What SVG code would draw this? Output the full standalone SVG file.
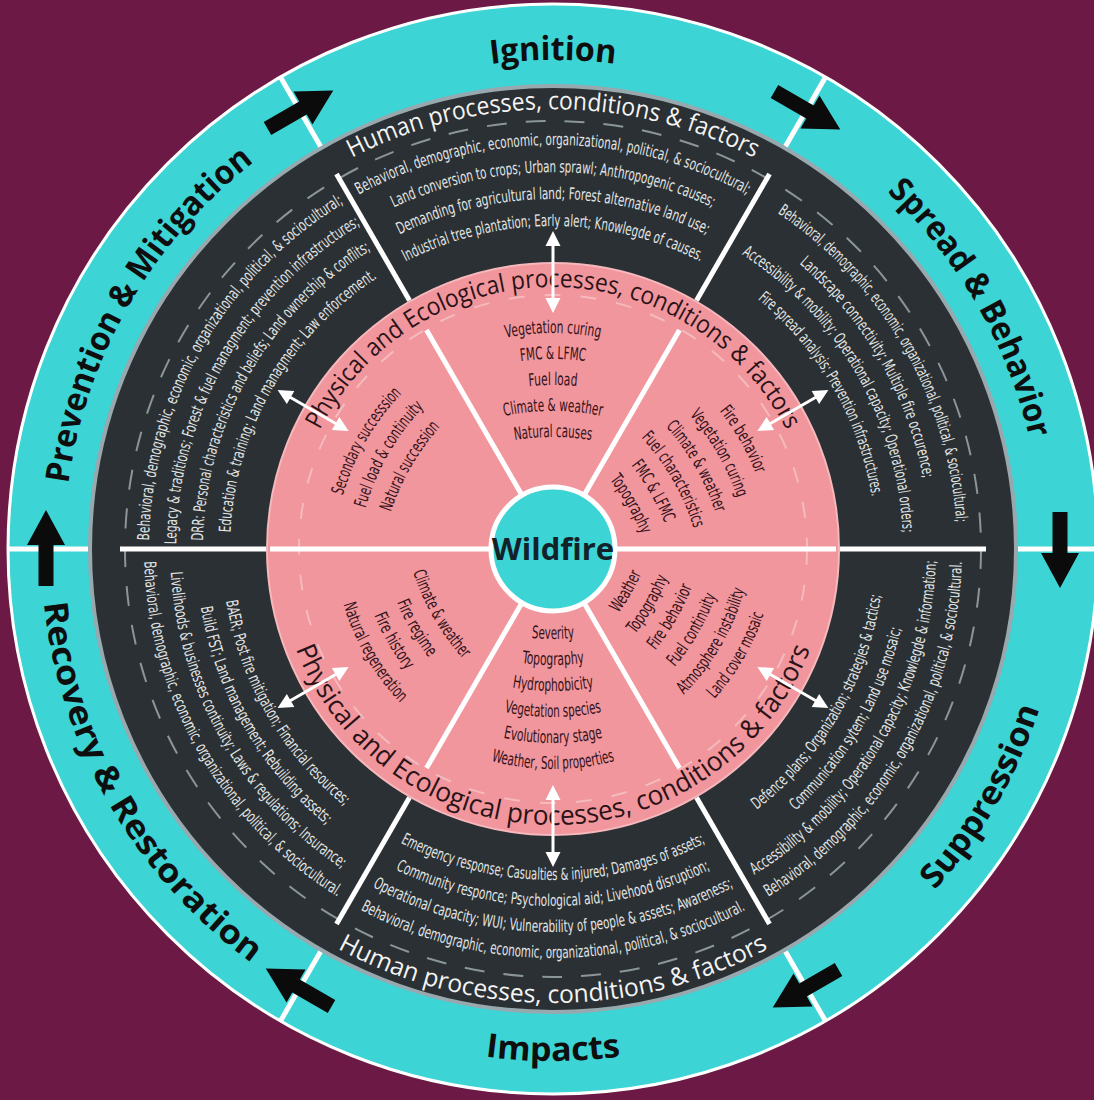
<svg xmlns="http://www.w3.org/2000/svg" width="1094" height="1100" viewBox="0 0 1094 1100">
<style>
.dk{font-family:"Liberation Sans Narrow","DejaVu Sans Condensed","Liberation Sans",sans-serif;font-size:16.5px;fill:#e2e5e5}
.pk{font-family:"Liberation Sans Narrow","DejaVu Sans Condensed","Liberation Sans",sans-serif;font-size:17.5px;fill:#35111a}
.hd{font-family:"Open Sans","Liberation Sans",sans-serif;font-size:25px;fill:#f4f4f4}
.ph{font-family:"Open Sans","Liberation Sans",sans-serif;font-size:25px;fill:#2a1318}
.st{font-family:"Open Sans","Liberation Sans",sans-serif;font-size:33px;font-weight:700;fill:#0e0e0e}
.core{font-family:"Open Sans","Liberation Sans",sans-serif;font-size:31px;font-weight:700;fill:#13222a}
.div{stroke:#fff;stroke-width:5}
.arr{fill:#0b0b0b}
.dbl{stroke:#fff;stroke-width:3}
</style>
<defs>
  <!-- clockwise half circles (text reads over the top) -->
  <path id="cw404" d="M149,549 A404,404 0 0 1 957,549"/>
  <path id="cw377" d="M176,549 A377,377 0 0 1 930,549"/>
  <path id="cw350" d="M203,549 A350,350 0 0 1 903,549"/>
  <path id="cw323" d="M230,549 A323,323 0 0 1 876,549"/>
  <path id="cw440" d="M113,549 A440,440 0 0 1 993,549"/>
  <path id="cw489" d="M64,549 A489,489 0 0 1 1042,549"/>
  <path id="cw262" d="M291,549 A262,262 0 0 1 815,549"/>
  <!-- counter-clockwise half circles (text reads along the bottom) -->
  <path id="ccw409" d="M144,549 A409,409 0 0 0 962,549"/>
  <path id="ccw383" d="M170,549 A383,383 0 0 0 936,549"/>
  <path id="ccw357" d="M196,549 A357,357 0 0 0 910,549"/>
  <path id="ccw331" d="M222,549 A331,331 0 0 0 884,549"/>
  <path id="ccw454" d="M99,549 A454,454 0 0 0 1007,549"/>
  <path id="ccw512" d="M41,549 A512,512 0 0 0 1065,549"/>
  <path id="ccw276" d="M277,549 A276,276 0 0 0 829,549"/>
  <!-- gently curved lines for the inner lists -->
  <path id="pt216" d="M313,573 A240,240 0 0 1 793,573"/>
  <path id="pt190" d="M313,599 A240,240 0 0 1 793,599"/>
  <path id="pt164" d="M313,625 A240,240 0 0 1 793,625"/>
  <path id="pt138" d="M313,651 A240,240 0 0 1 793,651"/>
  <path id="pt112" d="M313,677 A240,240 0 0 1 793,677"/>
  <path id="pt86" d="M313,703 A240,240 0 0 1 793,703"/>
  <path id="pb90" d="M313,399 A240,240 0 0 0 793,399"/>
  <path id="pb116" d="M313,425 A240,240 0 0 0 793,425"/>
  <path id="pb142" d="M313,451 A240,240 0 0 0 793,451"/>
  <path id="pb168" d="M313,477 A240,240 0 0 0 793,477"/>
  <path id="pb194" d="M313,503 A240,240 0 0 0 793,503"/>
  <path id="pb220" d="M313,529 A240,240 0 0 0 793,529"/>
  <path id="pb138" d="M313,447 A240,240 0 0 0 793,447"/>
  <path id="pb164" d="M313,473 A240,240 0 0 0 793,473"/>
  <path id="pb190" d="M313,499 A240,240 0 0 0 793,499"/>
  <path id="pb216" d="M313,525 A240,240 0 0 0 793,525"/>
  <!-- stage arrow, pointing along +x -->
  <polygon id="stageArrow" points="-37,-7.5 4,-7.5 4,-19 39,0 4,19 4,7.5 -37,7.5"/>
  <!-- double headed link between the rings (vertical at the top) -->
  <g id="link">
    <line x1="553" y1="244" x2="553" y2="300" class="dbl"/>
    <polygon points="553,231 545.5,246 560.5,246" fill="#fff"/>
    <polygon points="553,313 545.5,298 560.5,298" fill="#fff"/>
  </g>
</defs>

<rect width="1094" height="1100" fill="#6c1a45"/>

<!-- outer ring: stages -->
<g id="stages">
  <circle cx="553" cy="549" r="545" fill="#3dd4d5" stroke="#fff" stroke-width="3"/>
  <g class="div">
    <line x1="1014" y1="549" x2="1099" y2="549"/>
    <line x1="1014" y1="549" x2="1099" y2="549" transform="rotate(60 553 549)"/>
    <line x1="1014" y1="549" x2="1099" y2="549" transform="rotate(120 553 549)"/>
    <line x1="1014" y1="549" x2="1099" y2="549" transform="rotate(180 553 549)"/>
    <line x1="1014" y1="549" x2="1099" y2="549" transform="rotate(240 553 549)"/>
    <line x1="1014" y1="549" x2="1099" y2="549" transform="rotate(300 553 549)"/>
  </g>
  <g id="stage-ignition"><text class="st" text-anchor="middle"><textPath href="#cw489" startOffset="50%" textLength="125" lengthAdjust="spacingAndGlyphs">Ignition</textPath></text></g>
  <g id="stage-spread" transform="rotate(60 553 549)"><text class="st" text-anchor="middle"><textPath href="#cw489" startOffset="50%" textLength="289" lengthAdjust="spacingAndGlyphs">Spread &amp; Behavior</textPath></text></g>
  <g id="stage-prevention" transform="rotate(-60 553 549)"><text class="st" text-anchor="middle"><textPath href="#cw489" startOffset="50%" textLength="381" lengthAdjust="spacingAndGlyphs">Prevention &amp; Mitigation</textPath></text></g>
  <g id="stage-impacts"><text class="st" text-anchor="middle"><textPath href="#ccw512" startOffset="50%" textLength="136" lengthAdjust="spacingAndGlyphs">Impacts</textPath></text></g>
  <g id="stage-suppression" transform="rotate(-60 553 549)"><text class="st" text-anchor="middle"><textPath href="#ccw512" startOffset="50%" textLength="211" lengthAdjust="spacingAndGlyphs">Suppression</textPath></text></g>
  <g id="stage-recovery" transform="rotate(60 553 549)"><text class="st" text-anchor="middle"><textPath href="#ccw512" startOffset="50%" textLength="428" lengthAdjust="spacingAndGlyphs">Recovery &amp; Restoration</textPath></text></g>
</g>

<!-- middle ring: human processes -->
<g id="human">
  <circle cx="553" cy="549" r="463" fill="#2a3033" stroke="#97a8ae" stroke-width="4"/>
  <circle cx="553" cy="549" r="428" fill="none" stroke="#8b9699" stroke-width="2" stroke-dasharray="20 19"/>
  <text class="hd" text-anchor="middle"><textPath href="#cw440" startOffset="50%" textLength="418" lengthAdjust="spacingAndGlyphs">Human processes, conditions &amp; factors</textPath></text>
  <text class="hd" text-anchor="middle"><textPath href="#ccw454" startOffset="50%" textLength="449" lengthAdjust="spacingAndGlyphs">Human processes, conditions &amp; factors</textPath></text>
  <g class="div">
    <line x1="840" y1="549" x2="986" y2="549"/>
    <line x1="840" y1="549" x2="986" y2="549" transform="rotate(60 553 549)"/>
    <line x1="840" y1="549" x2="986" y2="549" transform="rotate(120 553 549)"/>
    <line x1="840" y1="549" x2="986" y2="549" transform="rotate(180 553 549)"/>
    <line x1="840" y1="549" x2="986" y2="549" transform="rotate(240 553 549)"/>
    <line x1="840" y1="549" x2="986" y2="549" transform="rotate(300 553 549)"/>
  </g>
  <g id="human-ignition">
    <text class="dk" text-anchor="middle"><textPath href="#cw404" startOffset="50%" textLength="405" lengthAdjust="spacingAndGlyphs">Behavioral, demographic, economic, organizational, political, &amp; sociocultural;</textPath></text>
    <text class="dk" text-anchor="middle"><textPath href="#cw377" startOffset="50%" textLength="329" lengthAdjust="spacingAndGlyphs">Land conversion to crops; Urban sprawl; Anthropogenic causes;</textPath></text>
    <text class="dk" text-anchor="middle"><textPath href="#cw350" startOffset="50%" textLength="318" lengthAdjust="spacingAndGlyphs">Demanding for agricultural land; Forest alternative land use;</textPath></text>
    <text class="dk" text-anchor="middle"><textPath href="#cw323" startOffset="50%" textLength="306" lengthAdjust="spacingAndGlyphs">Industrial tree plantation; Early alert; Knowlegde of causes.</textPath></text>
  </g>
  <g id="human-spread" transform="rotate(60 553 549)">
    <text class="dk" text-anchor="middle"><textPath href="#cw404" startOffset="50%" textLength="370" lengthAdjust="spacingAndGlyphs">Behavioral, demographic, economic, organizational, political, &amp; sociocultural;</textPath></text>
    <text class="dk" text-anchor="middle"><textPath href="#cw377" startOffset="50%" textLength="253" lengthAdjust="spacingAndGlyphs">Landscape connectivity; Multiple fire occurence;</textPath></text>
    <text class="dk" text-anchor="middle"><textPath href="#cw350" startOffset="50%" textLength="334" lengthAdjust="spacingAndGlyphs">Accessibility &amp; mobility; Operational capacity; Operational orders;</textPath></text>
    <text class="dk" text-anchor="middle"><textPath href="#cw323" startOffset="50%" textLength="233" lengthAdjust="spacingAndGlyphs">Fire spread analysis; Prevention infrastructures.</textPath></text>
  </g>
  <g id="human-prevention" transform="rotate(-60 553 549)">
    <text class="dk" text-anchor="middle"><textPath href="#cw404" startOffset="50%" textLength="406" lengthAdjust="spacingAndGlyphs">Behavioral, demographic, economic, organizational, political, &amp; sociocultural;</textPath></text>
    <text class="dk" text-anchor="middle"><textPath href="#cw377" startOffset="50%" textLength="385" lengthAdjust="spacingAndGlyphs">Legacy &amp; traditions; Forest &amp; fuel managment; prevention infrastructures;</textPath></text>
    <text class="dk" text-anchor="middle"><textPath href="#cw350" startOffset="50%" textLength="350" lengthAdjust="spacingAndGlyphs">DRR: Personal characteristics and beliefs; Land ownership &amp; conflits;</textPath></text>
    <text class="dk" text-anchor="middle"><textPath href="#cw323" startOffset="50%" textLength="305" lengthAdjust="spacingAndGlyphs">Education &amp; training; Land managment; Law enforcement.</textPath></text>
  </g>
  <g id="human-impacts">
    <text class="dk" text-anchor="middle"><textPath href="#ccw331" startOffset="50%" textLength="317" lengthAdjust="spacingAndGlyphs">Emergency response; Casualties &amp; injured; Damages of assets;</textPath></text>
    <text class="dk" text-anchor="middle"><textPath href="#ccw357" startOffset="50%" textLength="326" lengthAdjust="spacingAndGlyphs">Community responce; Psychological aid; Livehood disruption;</textPath></text>
    <text class="dk" text-anchor="middle"><textPath href="#ccw383" startOffset="50%" textLength="376" lengthAdjust="spacingAndGlyphs">Operational capacity; WUI; Vulnerability of people &amp; assets; Awareness;</textPath></text>
    <text class="dk" text-anchor="middle"><textPath href="#ccw409" startOffset="50%" textLength="401" lengthAdjust="spacingAndGlyphs">Behavioral, demographic, economic, organizational, political, &amp; sociocultural.</textPath></text>
  </g>
  <g id="human-suppression" transform="rotate(-60 553 549)">
    <text class="dk" text-anchor="middle"><textPath href="#ccw331" startOffset="50%" textLength="254" lengthAdjust="spacingAndGlyphs">Defence plans; Organization; strategies &amp; tactics;</textPath></text>
    <text class="dk" text-anchor="middle"><textPath href="#ccw357" startOffset="50%" textLength="214" lengthAdjust="spacingAndGlyphs">Communication sytem; Land use mosaic;</textPath></text>
    <text class="dk" text-anchor="middle"><textPath href="#ccw383" startOffset="50%" textLength="378" lengthAdjust="spacingAndGlyphs">Accessibility &amp; mobility; Operational capacity; Knowlegde &amp; information;</textPath></text>
    <text class="dk" text-anchor="middle"><textPath href="#ccw409" startOffset="50%" textLength="403" lengthAdjust="spacingAndGlyphs">Behavioral, demographic, economic, organizational, political, &amp; sociocultural.</textPath></text>
  </g>
  <g id="human-recovery" transform="rotate(60 553 549)">
    <text class="dk" text-anchor="middle"><textPath href="#ccw331" startOffset="50%" textLength="242" lengthAdjust="spacingAndGlyphs">BAER; Post fire mitigation; Financial resources;</textPath></text>
    <text class="dk" text-anchor="middle"><textPath href="#ccw357" startOffset="50%" textLength="257" lengthAdjust="spacingAndGlyphs">Build FST; Land management; Rebuilding assets;</textPath></text>
    <text class="dk" text-anchor="middle"><textPath href="#ccw383" startOffset="50%" textLength="355" lengthAdjust="spacingAndGlyphs">Livelihoods &amp; businesses continuity; Laws &amp; regulations; Insurance;</textPath></text>
    <text class="dk" text-anchor="middle"><textPath href="#ccw409" startOffset="50%" textLength="403" lengthAdjust="spacingAndGlyphs">Behavioral, demographic, economic, organizational, political, &amp; sociocultural.</textPath></text>
  </g>
</g>

<!-- inner disc: physical and ecological processes -->
<g id="physical">
  <circle cx="553" cy="549" r="286" fill="#f0969c" stroke="#f6b8bc" stroke-width="2"/>
  <circle cx="553" cy="549" r="254" fill="none" stroke="#ffffff" stroke-opacity="0.35" stroke-width="2" stroke-dasharray="16 20"/>
  <g class="div">
    <line x1="610" y1="549" x2="836" y2="549"/>
    <line x1="496" y1="549" x2="270" y2="549"/>
    <line x1="553" y1="549" x2="806" y2="549" transform="rotate(60 553 549)"/>
    <line x1="553" y1="549" x2="806" y2="549" transform="rotate(120 553 549)"/>
    <line x1="553" y1="549" x2="806" y2="549" transform="rotate(240 553 549)"/>
    <line x1="553" y1="549" x2="806" y2="549" transform="rotate(300 553 549)"/>
  </g>
  <text class="ph" text-anchor="middle"><textPath href="#cw262" startOffset="50%" textLength="576" lengthAdjust="spacingAndGlyphs">Physical and  Ecological processes, conditions &amp; factors</textPath></text>
  <text class="ph" text-anchor="middle" style="font-size:27px"><textPath href="#ccw276" startOffset="50%" textLength="662" lengthAdjust="spacingAndGlyphs">Physical and  Ecological processes, conditions &amp; factors</textPath></text>
  <g id="phys-ignition">
    <text class="pk" text-anchor="middle"><textPath href="#pt216" startOffset="50%" textLength="95" lengthAdjust="spacingAndGlyphs">Vegetation curing</textPath></text>
    <text class="pk" text-anchor="middle"><textPath href="#pt190" startOffset="50%" textLength="65" lengthAdjust="spacingAndGlyphs">FMC &amp; LFMC</textPath></text>
    <text class="pk" text-anchor="middle"><textPath href="#pt164" startOffset="50%" textLength="48" lengthAdjust="spacingAndGlyphs">Fuel load</textPath></text>
    <text class="pk" text-anchor="middle"><textPath href="#pt138" startOffset="50%" textLength="98" lengthAdjust="spacingAndGlyphs">Climate &amp; weather</textPath></text>
    <text class="pk" text-anchor="middle"><textPath href="#pt112" startOffset="50%" textLength="77" lengthAdjust="spacingAndGlyphs">Natural causes</textPath></text>
  </g>
  <g id="phys-spread" transform="rotate(60 553 549)">
    <text class="pk" text-anchor="middle"><textPath href="#pt216" startOffset="50%" textLength="73" lengthAdjust="spacingAndGlyphs">Fire behavior</textPath></text>
    <text class="pk" text-anchor="middle"><textPath href="#pt190" startOffset="50%" textLength="96" lengthAdjust="spacingAndGlyphs">Vegetation curing</textPath></text>
    <text class="pk" text-anchor="middle"><textPath href="#pt164" startOffset="50%" textLength="100" lengthAdjust="spacingAndGlyphs">Climate &amp; weather</textPath></text>
    <text class="pk" text-anchor="middle"><textPath href="#pt138" startOffset="50%" textLength="106" lengthAdjust="spacingAndGlyphs">Fuel characteristics</textPath></text>
    <text class="pk" text-anchor="middle"><textPath href="#pt112" startOffset="50%" textLength="67" lengthAdjust="spacingAndGlyphs">FMC &amp; LFMC</textPath></text>
    <text class="pk" text-anchor="middle"><textPath href="#pt86" startOffset="50%" textLength="64" lengthAdjust="spacingAndGlyphs">Topography</textPath></text>
  </g>
  <g id="phys-prevention" transform="rotate(-60 553 549)">
    <text class="pk" text-anchor="middle"><textPath href="#pt216" startOffset="50%" textLength="119" lengthAdjust="spacingAndGlyphs">Secondary successsion</textPath></text>
    <text class="pk" text-anchor="middle"><textPath href="#pt190" startOffset="50%" textLength="118" lengthAdjust="spacingAndGlyphs">Fuel load &amp; continuity</textPath></text>
    <text class="pk" text-anchor="middle"><textPath href="#pt164" startOffset="50%" textLength="99" lengthAdjust="spacingAndGlyphs">Natural succession</textPath></text>
  </g>
  <g id="phys-impacts">
    <text class="pk" text-anchor="middle"><textPath href="#pb90" startOffset="50%" textLength="43" lengthAdjust="spacingAndGlyphs">Severity</textPath></text>
    <text class="pk" text-anchor="middle"><textPath href="#pb116" startOffset="50%" textLength="63" lengthAdjust="spacingAndGlyphs">Topography</textPath></text>
    <text class="pk" text-anchor="middle"><textPath href="#pb142" startOffset="50%" textLength="82" lengthAdjust="spacingAndGlyphs">Hydrophobicity</textPath></text>
    <text class="pk" text-anchor="middle"><textPath href="#pb168" startOffset="50%" textLength="98" lengthAdjust="spacingAndGlyphs">Vegetation species</textPath></text>
    <text class="pk" text-anchor="middle"><textPath href="#pb194" startOffset="50%" textLength="100" lengthAdjust="spacingAndGlyphs">Evolutionary stage</textPath></text>
    <text class="pk" text-anchor="middle"><textPath href="#pb220" startOffset="50%" textLength="125" lengthAdjust="spacingAndGlyphs">Weather, Soil properties</textPath></text>
  </g>
  <g id="phys-suppression" transform="rotate(-60 553 549)">
    <text class="pk" text-anchor="middle"><textPath href="#pb90" startOffset="50%" textLength="46" lengthAdjust="spacingAndGlyphs">Weather</textPath></text>
    <text class="pk" text-anchor="middle"><textPath href="#pb116" startOffset="50%" textLength="66" lengthAdjust="spacingAndGlyphs">Topography</textPath></text>
    <text class="pk" text-anchor="middle"><textPath href="#pb142" startOffset="50%" textLength="74" lengthAdjust="spacingAndGlyphs">Fire behavior</textPath></text>
    <text class="pk" text-anchor="middle"><textPath href="#pb168" startOffset="50%" textLength="83" lengthAdjust="spacingAndGlyphs">Fuel continuity</textPath></text>
    <text class="pk" text-anchor="middle"><textPath href="#pb194" startOffset="50%" textLength="123" lengthAdjust="spacingAndGlyphs">Atmosphere instability</textPath></text>
    <text class="pk" text-anchor="middle"><textPath href="#pb220" startOffset="50%" textLength="99" lengthAdjust="spacingAndGlyphs">Land cover mosaic</textPath></text>
  </g>
  <g id="phys-recovery" transform="rotate(60 553 549)">
    <text class="pk" text-anchor="middle"><textPath href="#pb138" startOffset="50%" textLength="101" lengthAdjust="spacingAndGlyphs">Climate &amp; weather</textPath></text>
    <text class="pk" text-anchor="middle"><textPath href="#pb164" startOffset="50%" textLength="64" lengthAdjust="spacingAndGlyphs">Fire regime</textPath></text>
    <text class="pk" text-anchor="middle"><textPath href="#pb190" startOffset="50%" textLength="64" lengthAdjust="spacingAndGlyphs">Fire history</textPath></text>
    <text class="pk" text-anchor="middle"><textPath href="#pb216" startOffset="50%" textLength="115" lengthAdjust="spacingAndGlyphs">Natural regeneration</textPath></text>
  </g>
</g>

<!-- centre -->
<g id="wildfire">
  <circle cx="553" cy="549" r="62" fill="#3dd4d5" stroke="#fff" stroke-width="5"/>
  <text class="core" x="553" y="560" text-anchor="middle">Wildfire</text>
</g>

<!-- connectors: stage cycle arrows and ring links -->
<g id="connectors">
  <use href="#stageArrow" class="arr" transform="translate(1060 549) rotate(90)"/>
  <use href="#stageArrow" class="arr" transform="rotate(60 553 549) translate(1060 549) rotate(90)"/>
  <use href="#stageArrow" class="arr" transform="rotate(120 553 549) translate(1060 549) rotate(90)"/>
  <use href="#stageArrow" class="arr" transform="rotate(180 553 549) translate(1060 549) rotate(90)"/>
  <use href="#stageArrow" class="arr" transform="rotate(240 553 549) translate(1060 549) rotate(90)"/>
  <use href="#stageArrow" class="arr" transform="rotate(300 553 549) translate(1060 549) rotate(90)"/>
  <use href="#link"/>
  <use href="#link" transform="rotate(60 553 549)"/>
  <use href="#link" transform="rotate(120 553 549)"/>
  <use href="#link" transform="rotate(180 553 549)"/>
  <use href="#link" transform="rotate(240 553 549)"/>
  <use href="#link" transform="rotate(300 553 549)"/>
</g>
</svg>
